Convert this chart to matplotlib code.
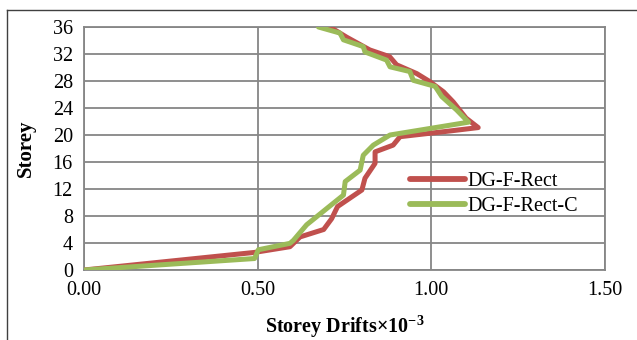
import matplotlib

matplotlib.use("Agg")
import matplotlib.pyplot as plt
from matplotlib.lines import Line2D

# storey drift (x10^-3) vs storey
rect_drift = [0.00, 0.49, 0.593, 0.622, 0.69, 0.713, 0.73, 0.80, 0.809, 0.838, 0.838,
              0.89, 0.91, 1.054, 1.135, 1.10, 1.063, 1.035, 0.996, 0.958, 0.90, 0.88,
              0.823, 0.756, 0.708]
rect_storey = [0, 2.6, 3.45, 4.9, 6.0, 7.6, 9.4, 11.85, 13.6, 15.8, 17.5,
               18.5, 19.75, 20.6, 21.1, 22.5, 24.9, 26.4, 27.9, 29.1, 30.4, 31.6,
               32.6, 34.5, 36]

rectc_drift = [0.00, 0.491, 0.502, 0.593, 0.603, 0.641, 0.718, 0.747, 0.752, 0.795,
               0.804, 0.833, 0.881, 1.107, 1.073, 1.03, 1.011, 0.948, 0.938, 0.881,
               0.871, 0.809, 0.804, 0.747, 0.737, 0.675]
rectc_storey = [0, 1.7, 3.0, 3.95, 4.4, 6.7, 9.9, 11.1, 13.1, 14.8,
                17.0, 18.5, 20.0, 21.9, 23.7, 25.7, 27.2, 28.1, 29.4, 30.1,
                31.1, 32.3, 33.1, 34.1, 35.1, 36]

x_ticks = [0.0, 0.5, 1.0, 1.5]
y_ticks = list(range(0, 37, 4))

RED = "#C0504D"
GREEN = "#9BBB59"
GRID = "#868686"
FONT = "Liberation Serif"
FS = 14.5

plt.rcParams["mathtext.fontset"] = "custom"
plt.rcParams["mathtext.rm"] = FONT
plt.rcParams["mathtext.bf"] = FONT + ":bold"

fig = plt.figure(figsize=(6.37, 3.4), dpi=100)
ax = fig.add_axes([84 / 637, 70 / 340, 521 / 637, 243 / 340])

ax.plot(rect_drift, rect_storey, color=RED, lw=3.6, solid_joinstyle="round",
        solid_capstyle="round", label="DG-F-Rect", zorder=3)
ax.plot(rectc_drift, rectc_storey, color=GREEN, lw=3.6, solid_joinstyle="round",
        solid_capstyle="round", label="DG-F-Rect-C", zorder=4)

ax.set_xlim(0, 1.5)
ax.set_ylim(0, 36)
ax.set_xticks(x_ticks)
ax.set_xticklabels([f"{v:.2f}" for v in x_ticks], fontfamily=FONT, fontsize=FS)
ax.set_yticks(y_ticks)
ax.set_yticklabels([str(v) for v in y_ticks], fontfamily=FONT, fontsize=FS)
ax.tick_params(length=0, pad=8)
ax.grid(True, color=GRID, lw=1.3)
ax.set_axisbelow(True)
for s in ax.spines.values():
    s.set_color(GRID)
    s.set_linewidth(1.3)

ax.set_xlabel("Storey Drifts×10$^{\\mathbf{-3}}$", fontfamily=FONT, fontsize=FS,
              fontweight="bold", labelpad=9)
ax.set_ylabel("Storey", fontfamily=FONT, fontsize=FS + 0.5, fontweight="bold", labelpad=12)

leg = ax.legend(loc="center left", bbox_to_anchor=(0.626, 0.313), frameon=False,
                prop={"family": FONT, "size": FS}, handlelength=2.7,
                handletextpad=0.15, borderpad=0, borderaxespad=0, labelspacing=0.25)
for h in leg.get_lines():
    h.set_linewidth(4.2)
    h.set_solid_capstyle("round")

# outer frame (top and left edges visible in the reference)
fig.add_artist(Line2D([7 / 637, 1], [1 - 10 / 340, 1 - 10 / 340], color="#404040", lw=1.0))
fig.add_artist(Line2D([7 / 637, 7 / 637], [0, 1 - 10 / 340], color="#404040", lw=1.0))

fig.savefig("out.png", dpi=100)
